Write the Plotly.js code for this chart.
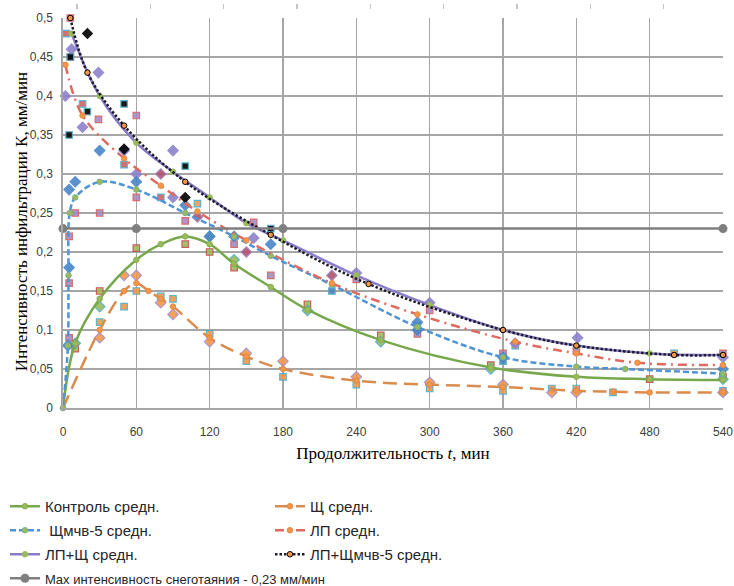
<!DOCTYPE html>
<html>
<head>
<meta charset="utf-8">
<script src="https://cdn.plot.ly/plotly-3.0.1.min.js"></script>
<style>
  html, body { margin: 0; padding: 0; background: #fff; }
  #chart { width: 734px; height: 586px; }
</style>
</head>
<body>
<div id="chart"></div>
<script>
// ---- averaged infiltration curves (time, min -> intensity, mm/min) ----
const controlX = [0, 10, 30, 60, 80, 100, 120, 140, 170, 200, 260, 350, 420, 480, 540];
const controlY = [0, 0.083, 0.14, 0.19, 0.21, 0.22, 0.21, 0.185, 0.155, 0.126, 0.087, 0.052, 0.04, 0.037, 0.036];

const shchX = [0, 30, 50, 60, 70, 80, 90, 120, 150, 180, 240, 300, 360, 420, 450, 480, 540];
const shchY = [0, 0.10, 0.15, 0.16, 0.15, 0.14, 0.13, 0.09, 0.066, 0.05, 0.035, 0.03, 0.027, 0.022, 0.021, 0.02, 0.02];

const shchmX = [0, 4, 4.5, 5.5, 10, 30, 60, 100, 140, 170, 220, 290, 360, 420, 460, 540];
const shchmY = [0, 0.08, 0.17, 0.25, 0.27, 0.29, 0.28, 0.25, 0.22, 0.195, 0.158, 0.104, 0.065, 0.053, 0.05, 0.044];

const lpX = [2, 16, 50, 80, 110, 150, 220, 290, 370, 420, 470, 540];
const lpY = [0.44, 0.375, 0.32, 0.285, 0.252, 0.215, 0.16, 0.12, 0.085, 0.07, 0.058, 0.055];

const lpShchX = [7, 30, 60, 90, 120, 150, 180, 240, 300, 360, 420, 480, 540];
const lpShchY = [0.48, 0.40, 0.34, 0.303, 0.27, 0.237, 0.215, 0.17, 0.132, 0.1, 0.08, 0.07, 0.068];

const lpShchmX = [6, 20, 50, 100, 170, 250, 360, 420, 500, 540];
const lpShchmY = [0.5, 0.43, 0.362, 0.29, 0.222, 0.159, 0.1, 0.08, 0.068, 0.068];

const maxMeltX = [0, 60, 180, 540];
const maxMeltY = [0.23, 0.23, 0.23, 0.23];

// ---- individual replicate measurements ----
const repBlueDiaX = [4, 5, 5, 10, 30, 60, 100, 120, 140, 170, 290, 290, 360, 540];
const repBlueDiaY = [0.08, 0.18, 0.28, 0.29, 0.33, 0.29, 0.26, 0.22, 0.22, 0.21, 0.11, 0.10, 0.065, 0.05];

const repPurpleDiaX = [7, 29, 2, 16, 90, 60, 90, 156, 240, 300, 370, 421, 540, 50];
const repPurpleDiaY = [0.46, 0.43, 0.40, 0.36, 0.33, 0.30, 0.27, 0.218, 0.173, 0.135, 0.083, 0.09, 0.065, 0.33];

const repRedDiaX = [80, 110, 150, 220];
const repRedDiaY = [0.30, 0.245, 0.20, 0.17];

const repPinkSqX = [6, 6, 60, 29, 60, 10, 30, 100, 5, 5, 5, 156, 140, 170, 240, 300, 290, 360, 420, 540];
const repPinkSqY = [0.5, 0.45, 0.375, 0.37, 0.27, 0.25, 0.25, 0.24, 0.22, 0.16, 0.09, 0.238, 0.21, 0.17, 0.165, 0.125, 0.095, 0.07, 0.073, 0.07];

const repGreenSqX = [10, 30, 60, 100, 120, 140, 200, 260, 350, 480, 540];
const repGreenSqY = [0.076, 0.15, 0.205, 0.21, 0.20, 0.18, 0.133, 0.093, 0.055, 0.037, 0.04];

const repGreenDiaX = [10, 30, 120, 140, 200, 260, 350, 540];
const repGreenDiaY = [0.083, 0.13, 0.22, 0.19, 0.125, 0.085, 0.05, 0.037];

const repTealRedSqX = [2.5, 16, 50, 80];
const repTealRedSqY = [0.48, 0.39, 0.312, 0.27];

const repBlackSqX = [6, 5, 20, 50, 100, 170];
const repBlackSqY = [0.45, 0.35, 0.38, 0.39, 0.31, 0.23];

const repBlackDiaX = [20, 50, 100];
const repBlackDiaY = [0.48, 0.332, 0.27];

const repTealOrangeSqX = [110, 30, 50, 60, 80, 90, 120, 150, 180, 240, 300, 360, 400, 420, 450, 540, 370, 500];
const repTealOrangeSqY = [0.262, 0.11, 0.13, 0.15, 0.143, 0.14, 0.095, 0.06, 0.04, 0.03, 0.025, 0.022, 0.025, 0.025, 0.02, 0.022, 0.08, 0.07];

const repTealBlueSqX = [220, 290, 360];
const repTealBlueSqY = [0.15, 0.105, 0.06];

const repOrangeDiaX = [30, 50, 60, 80, 90, 120, 150, 180, 240, 300, 360, 400, 420, 540];
const repOrangeDiaY = [0.09, 0.17, 0.17, 0.135, 0.12, 0.085, 0.07, 0.06, 0.04, 0.033, 0.03, 0.02, 0.02, 0.02];

const xTicks = [0, 60, 120, 180, 240, 300, 360, 420, 480, 540];

// ---- helpers ----
function rep(x, y, symbol, fill, edge, size) {
  return {
    type: 'scatter', mode: 'markers', x: x, y: y, showlegend: false,
    hoverinfo: 'skip', cliponaxis: false,
    marker: { symbol: symbol, size: size, color: fill, opacity: 0.9, line: { color: edge, width: 1.2 } }
  };
}
function avg(name, x, y, color, dash, mColor, mEdge, legendId, group) {
  return {
    type: 'scatter', mode: 'lines+markers', name: name, x: x, y: y,
    cliponaxis: false, legend: legendId, legendgroup: group,
    line: { color: color, width: 2.5, dash: dash, shape: 'spline', smoothing: 1 },
    marker: { symbol: 'circle', size: 5.5, color: mColor, line: { color: mEdge, width: 1 } }
  };
}

const traces = [
  rep(repTealOrangeSqX, repTealOrangeSqY, 'square', '#f79646', '#4bacc6', 6.5),
  rep(repOrangeDiaX, repOrangeDiaY, 'diamond', '#f79646', '#9f8cc8', 8),
  rep(repGreenSqX, repGreenSqY, 'square', '#9bbb59', '#c0504d', 6.5),
  rep(repGreenDiaX, repGreenDiaY, 'diamond', '#9bbb59', '#4bacc6', 8),
  rep(repPinkSqX, repPinkSqY, 'square', '#a58bc4', '#d0605f', 6.5),
  rep(repTealRedSqX, repTealRedSqY, 'square', '#d0605f', '#4bacc6', 6.5),
  rep(repTealBlueSqX, repTealBlueSqY, 'square', '#4f81bd', '#4bacc6', 6.5),
  rep(repPurpleDiaX, repPurpleDiaY, 'diamond', '#8c82cc', '#8c82cc', 8),
  rep(repRedDiaX, repRedDiaY, 'diamond', '#b0506c', '#a07cb8', 8),
  rep(repBlueDiaX, repBlueDiaY, 'diamond', '#4a86c8', '#4a86c8', 8),
  rep(repBlackSqX, repBlackSqY, 'square', '#000000', '#4bacc6', 6.5),
  rep(repBlackDiaX, repBlackDiaY, 'diamond', '#000000', '#000000', 7.5),

  avg('Контроль средн.', controlX, controlY, '#77a84c', 'solid', '#9bbb59', '#86ad55', 'legend', 'g1'),
  avg('Щ средн.', shchX, shchY, '#d98c4e', '14px,7px', '#f79646', '#e08a48', 'legend2', 'g2'),
  avg(' Щмчв-5 средн.', shchmX, shchmY, '#4f94d4', '6px,3px', '#9bbb59', '#7fae8a', 'legend', 'g3'),
  avg('ЛП средн.', lpX, lpY, '#df6a60', '9px,5px,2px,5px', '#f79646', '#e08a48', 'legend2', 'g4'),
  avg('ЛП+Щ средн.', lpShchX, lpShchY, '#8c7cc8', 'solid', '#9bbb59', '#9bbb59', 'legend', 'g5'),
  avg('ЛП+Щмчв-5 средн.', lpShchmX, lpShchmY, '#1c1c2c', '2.5px,2px', '#f79646', '#000000', 'legend2', 'g6'),
  {
    type: 'scatter', mode: 'lines+markers', x: maxMeltX, y: maxMeltY,
    name: '<span style="font-size:13px">Max интенсивность снеготаяния - 0,23 мм/мин</span>',
    cliponaxis: false, legend: 'legend', legendgroup: 'g7',
    line: { color: '#7f7f7f', width: 2.5 },
    marker: { symbol: 'circle', size: 9, color: '#7f7f7f' }
  },
  // carrier for the light top scale marks
  { type: 'scatter', mode: 'markers', x: [], y: [], xaxis: 'x2', showlegend: false, hoverinfo: 'skip' }
];

const gridColor = '#a6a6a6';
const tickFont = { family: 'Liberation Sans, Arial, sans-serif', size: 12, color: '#404040' };
const titleFont = { family: 'Liberation Serif, Times New Roman, serif', size: 17, color: '#000000' };

const legendBase = {
  orientation: 'v', bgcolor: 'rgba(0,0,0,0)', borderwidth: 0,
  font: { family: 'Liberation Sans, Arial, sans-serif', size: 15, color: '#262626' },
  tracegroupgap: 1.5, yanchor: 'top', xanchor: 'left', itemclick: false
};

const layout = {
  width: 734, height: 586,
  margin: { l: 63, r: 11, t: 3, b: 178, autoexpand: false },
  paper_bgcolor: '#ffffff', plot_bgcolor: '#ffffff',
  separators: ', ',
  showlegend: true,
  xaxis: {
    range: [0, 540], tickvals: xTicks, ticks: '', showgrid: true,
    gridcolor: gridColor, gridwidth: 1.6, zeroline: false,
    showline: true, linecolor: gridColor, linewidth: 1.6,
    tickfont: tickFont, ticklabelstandoff: 12,
    title: { text: 'Продолжительность <i>t</i>, мин', font: titleFont, standoff: 9 }
  },
  xaxis2: {
    overlaying: 'x', side: 'top', anchor: 'free', position: 1,
    range: [-11.45, 528.55], dtick: 60, tick0: 0, ticks: 'inside', ticklen: 5,
    tickcolor: '#c4c4c4', tickwidth: 1.2, showticklabels: false,
    showgrid: false, zeroline: false, showline: false
  },
  yaxis: {
    range: [0, 0.5], dtick: 0.05, tick0: 0, ticks: '', domain: [0, 390 / 405],
    showgrid: true, gridcolor: gridColor, gridwidth: 1.6, zeroline: false,
    showline: true, linecolor: gridColor, linewidth: 1.6,
    tickfont: tickFont, ticklabelstandoff: 6
  },
  annotations: [{
    text: 'Интенсивность инфильтрации К, мм/мин',
    xref: 'paper', yref: 'paper', x: -0.0636, y: 0.459,
    xanchor: 'center', yanchor: 'middle', textangle: -90, showarrow: false,
    font: titleFont
  }],
  legend: Object.assign({}, legendBase, { x: -0.0879, y: -0.2025 }),
  legend2: Object.assign({}, legendBase, { x: 0.3136, y: -0.2025 })
};

Plotly.newPlot('chart', traces, layout, { displayModeBar: false, staticPlot: true });
</script>
</body>
</html>
